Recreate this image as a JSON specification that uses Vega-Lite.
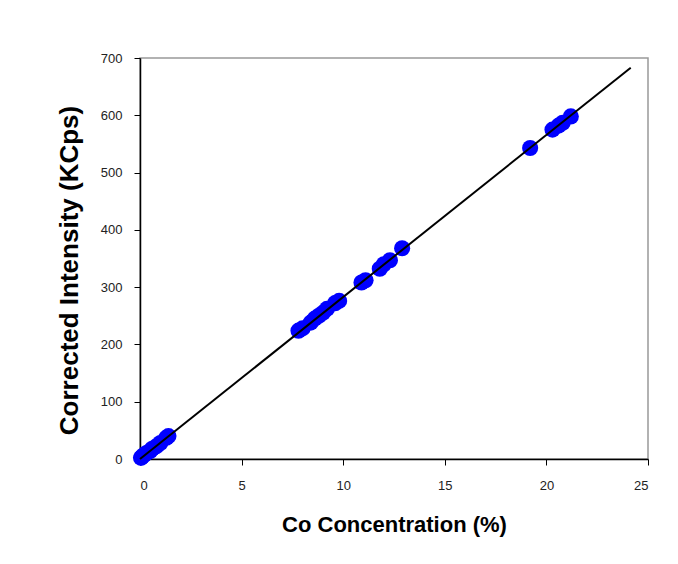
{
  "$schema": "https://vega.github.io/schema/vega-lite/v6.json",
  "width": 508,
  "height": 401,
  "autosize": {"type": "none"},
  "padding": {"left": 140, "top": 58, "right": 30, "bottom": 105},
  "background": "white",
  "config": {
    "view": {"stroke": "#999999", "strokeWidth": 1.5},
    "axis": {
      "domainColor": "black",
      "domainWidth": 1.5,
      "tickColor": "black",
      "tickSize": 6,
      "grid": false,
      "labelFont": "Liberation Sans",
      "labelFontSize": 13,
      "labelColor": "#222222",
      "titleFont": "Liberation Sans",
      "titleFontWeight": "bold",
      "titleColor": "black"
    }
  },
  "layer": [
    {
      "data": {"values": [
        {"conc": 0.05, "intensity": 2},
        {"conc": 0.1, "intensity": 4},
        {"conc": 0.2, "intensity": 7},
        {"conc": 0.3, "intensity": 10},
        {"conc": 0.5, "intensity": 14},
        {"conc": 0.6, "intensity": 18},
        {"conc": 0.8, "intensity": 22},
        {"conc": 1.0, "intensity": 28},
        {"conc": 1.3, "intensity": 37},
        {"conc": 1.4, "intensity": 40},
        {"conc": 7.8, "intensity": 224},
        {"conc": 8.0, "intensity": 228},
        {"conc": 8.4, "intensity": 238},
        {"conc": 8.6, "intensity": 245},
        {"conc": 8.8, "intensity": 250},
        {"conc": 9.0, "intensity": 255},
        {"conc": 9.2, "intensity": 262},
        {"conc": 9.6, "intensity": 272},
        {"conc": 9.8, "intensity": 276},
        {"conc": 10.9, "intensity": 308},
        {"conc": 11.1, "intensity": 312},
        {"conc": 11.8, "intensity": 332},
        {"conc": 12.0, "intensity": 340},
        {"conc": 12.3, "intensity": 347},
        {"conc": 12.9, "intensity": 368},
        {"conc": 19.2, "intensity": 543},
        {"conc": 20.3, "intensity": 575},
        {"conc": 20.6, "intensity": 582},
        {"conc": 20.8, "intensity": 587},
        {"conc": 21.2, "intensity": 598}
      ]},
      "mark": {"type": "circle", "size": 260, "color": "#0000FF", "opacity": 1},
      "encoding": {
        "x": {"field": "conc", "type": "quantitative",
              "scale": {"domain": [0, 25], "nice": false},
              "axis": {"values": [0, 5, 10, 15, 20, 25], "title": "Co Concentration (%)", "labelPadding": 14, "titlePadding": 22, "titleFontSize": 22}},
        "y": {"field": "intensity", "type": "quantitative",
              "scale": {"domain": [0, 700], "nice": false},
              "axis": {"values": [0, 100, 200, 300, 400, 500, 600, 700], "title": "Corrected Intensity (KCps)", "labelPadding": 12, "titlePadding": 18, "titleFontSize": 26, "titleY": 212}}
      }
    },
    {
      "data": {"values": [
        {"conc": 0, "intensity": 0},
        {"conc": 24.15, "intensity": 683}
      ]},
      "mark": {"type": "line", "color": "black", "strokeWidth": 2},
      "encoding": {
        "x": {"field": "conc", "type": "quantitative"},
        "y": {"field": "intensity", "type": "quantitative"}
      }
    }
  ]
}
